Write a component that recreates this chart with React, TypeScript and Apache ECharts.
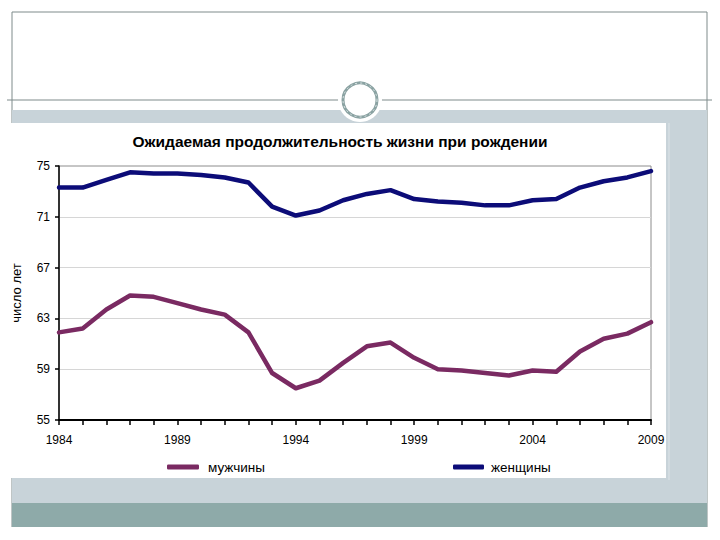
import React, { useEffect, useRef } from "react";
import * as echarts from "echarts";

const years = [
  "1984", "1985", "1986", "1987", "1988", "1989", "1990", "1991", "1992", "1993",
  "1994", "1995", "1996", "1997", "1998", "1999", "2000", "2001", "2002", "2003",
  "2004", "2005", "2006", "2007", "2008", "2009",
];
const men = [
  61.9, 62.2, 63.7, 64.8, 64.7, 64.2, 63.7, 63.3, 61.9, 58.7,
  57.5, 58.1, 59.5, 60.8, 61.1, 59.9, 59.0, 58.9, 58.7, 58.5,
  58.9, 58.8, 60.4, 61.4, 61.8, 62.7,
];
const women = [
  73.3, 73.3, 73.9, 74.5, 74.4, 74.4, 74.3, 74.1, 73.7, 71.8,
  71.1, 71.5, 72.3, 72.8, 73.1, 72.4, 72.2, 72.1, 71.9, 71.9,
  72.3, 72.4, 73.3, 73.8, 74.1, 74.6,
];
const seriesNames = ["мужчины", "женщины"];
const yMin = 55;
const yMax = 75;
const yStep = 4;
const title = "Ожидаемая продолжительность жизни при рождении";
const yName = "число лет";

const FONT = "'Liberation Sans', Arial, sans-serif";

export default function App() {
  const ref = useRef<HTMLDivElement>(null);
  useEffect(() => {
    if (!ref.current) return;
    const chart = echarts.init(ref.current, undefined, { renderer: "svg" });
    const shift = (arr: number[]) => arr.map((v) => +(v - yMin).toFixed(2));
    const frame = "#7f8b8b";
    chart.setOption({
      animation: false,
      backgroundColor: "#ffffff",
      graphic: [
        { type: "line", z: -10, shape: { x1: 12, y1: 12, x2: 707, y2: 12 }, style: { stroke: frame, lineWidth: 1 } },
        { type: "line", z: -10, shape: { x1: 12, y1: 12, x2: 12, y2: 527 }, style: { stroke: frame, lineWidth: 1 } },
        { type: "line", z: -10, shape: { x1: 707, y1: 12, x2: 707, y2: 527 }, style: { stroke: frame, lineWidth: 1 } },
        { type: "line", z: -10, shape: { x1: 7, y1: 100, x2: 712, y2: 100 }, style: { stroke: frame, lineWidth: 1 } },
        { type: "rect", z: -10, shape: { x: 12, y: 110, width: 695, height: 393 }, style: { fill: "#c8d3d9" } },
        { type: "rect", z: -10, shape: { x: 12, y: 503, width: 695, height: 24 }, style: { fill: "#8eaaa9" } },
        { type: "line", z: -9, shape: { x1: 669, y1: 123, x2: 669, y2: 480 }, style: { stroke: "#dde4e8", lineWidth: 1 } },
        { type: "rect", z: -9, shape: { x: 8, y: 123, width: 658, height: 355 }, style: { fill: "#ffffff" } },
        { type: "circle", z: -8, shape: { cx: 360, cy: 100, r: 22 }, style: { fill: "#ffffff" } },
        { type: "circle", z: -7, shape: { cx: 360, cy: 100, r: 17 }, style: { fill: "none", stroke: "#8aa2a2", lineWidth: 3 } },
        { type: "circle", z: -6, shape: { cx: 360, cy: 100, r: 17 }, style: { fill: "none", stroke: "#dfe8e8", lineWidth: 1, lineDash: [2, 3] } },
      ],
      title: {
        text: title,
        left: 335,
        top: 128,
        textAlign: "center",
        textStyle: { fontFamily: FONT, fontSize: 15.5, fontWeight: "bold", color: "#000" },
      },
      legend: [
        {
          data: [seriesNames[0]],
          left: 162,
          top: 455,
          icon: "roundRect",
          itemWidth: 32,
          itemHeight: 5,
          itemGap: 0,
          textStyle: { fontFamily: FONT, fontSize: 13.5, color: "#000", padding: [0, 0, 0, 4] },
        },
        {
          data: [seriesNames[1]],
          left: 448,
          top: 455,
          icon: "roundRect",
          itemWidth: 31,
          itemHeight: 5,
          itemGap: 0,
          textStyle: { fontFamily: FONT, fontSize: 13.5, color: "#000", padding: [0, 0, 0, 2] },
        },
      ],
      grid: {
        left: 59,
        top: 166,
        right: 69,
        bottom: 120,
        show: true,
        borderColor: "#8c8c8c",
        borderWidth: 1,
        backgroundColor: "transparent",
      },
      xAxis: {
        type: "category",
        data: years,
        boundaryGap: false,
        axisLine: { lineStyle: { color: "#000", width: 2 } },
        axisTick: { show: true, interval: 0, length: 5, lineStyle: { color: "#000", width: 1.5 } },
        axisLabel: {
          interval: 4,
          margin: 14,
          fontFamily: FONT,
          fontSize: 12,
          color: "#000",
        },
        splitLine: { show: false },
      },
      yAxis: {
        type: "value",
        min: 0,
        max: yMax - yMin,
        interval: yStep,
        name: yName,
        nameLocation: "middle",
        nameGap: 36,
        nameRotate: 90,
        nameTextStyle: { fontFamily: FONT, fontSize: 13, color: "#000" },
        axisLine: { show: true, lineStyle: { color: "#000", width: 1.5 } },
        axisTick: { show: true, length: 4, lineStyle: { color: "#000", width: 1.5 } },
        axisLabel: {
          formatter: (v: number) => String(v + yMin),
          margin: 9,
          fontFamily: FONT,
          fontSize: 12,
          color: "#000",
        },
        splitLine: {
          show: true,
          showMinLine: false,
          showMaxLine: false,
          lineStyle: { color: "#d6d6d6", width: 1 },
        },
      },
      series: [
        {
          name: seriesNames[0],
          type: "line",
          data: shift(men),
          showSymbol: false,
          symbol: "none",
          color: "#7a2a62",
          lineStyle: { width: 4.5, color: "#7a2a62", join: "round", cap: "round" },
          z: 3,
        },
        {
          name: seriesNames[1],
          type: "line",
          data: shift(women),
          showSymbol: false,
          symbol: "none",
          color: "#0c0c78",
          lineStyle: { width: 4.5, color: "#0c0c78", join: "round", cap: "round" },
          z: 3,
        },
      ],
    });
    return () => chart.dispose();
  }, []);
  return (
    <div
      ref={ref}
      style={{ position: "absolute", left: 0, top: 0, width: 720, height: 540 }}
    />
  );
}
